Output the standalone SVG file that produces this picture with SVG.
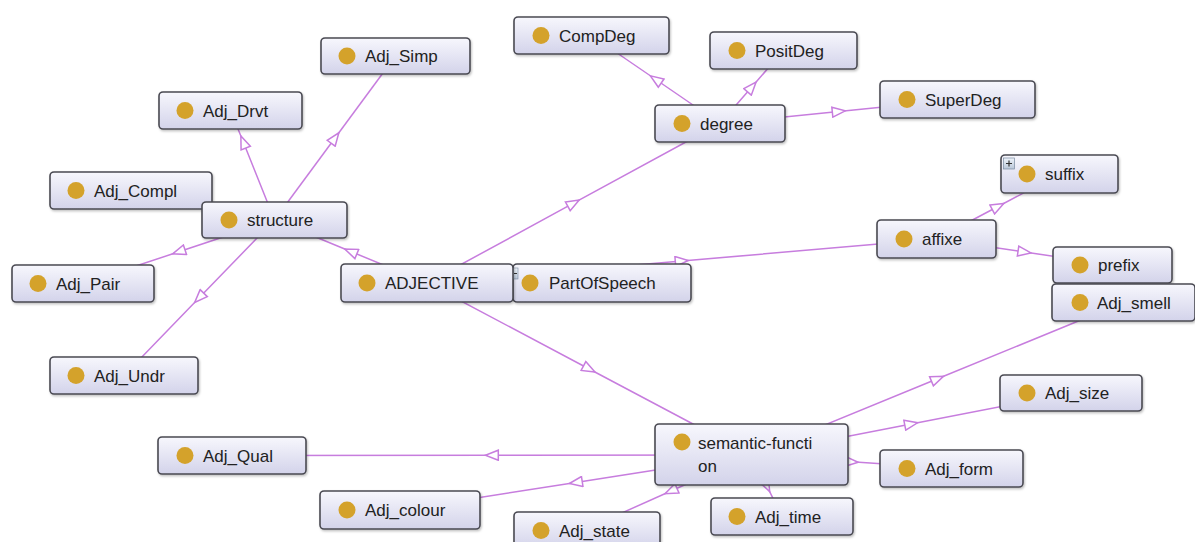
<svg xmlns="http://www.w3.org/2000/svg" width="1195" height="542" viewBox="0 0 1195 542">
<style>
.e{fill:none;stroke:#c77dde;stroke-width:1.5;marker-mid:url(#tri)}
.b{fill:url(#g);stroke:#4a4a52;stroke-width:1.6;filter:url(#sh)}
.d{fill:#d4a22b}
.t{font-family:"Liberation Sans",Arial,sans-serif;font-size:17px;fill:#222}
</style>
<defs>
<linearGradient id="g" x1="0" y1="0" x2="0" y2="1">
<stop offset="0" stop-color="#f7f7fd"/>
<stop offset="1" stop-color="#d3d3ea"/>
</linearGradient>
<linearGradient id="ig" x1="0" y1="0" x2="0" y2="1">
<stop offset="0" stop-color="#eef3fa"/>
<stop offset="1" stop-color="#b9c6d8"/>
</linearGradient>
<filter id="sh" x="-5%" y="-10%" width="112%" height="130%">
<feDropShadow dx="1" dy="1.5" stdDeviation="1" flood-color="#000" flood-opacity="0.25"/>
</filter>
<marker id="tri" markerUnits="userSpaceOnUse" viewBox="-8 -6 16 12" markerWidth="16" markerHeight="12" refX="0" refY="0" orient="auto">
<path d="M-6.5,-5 L6.5,0 L-6.5,5 Z" fill="#fff" stroke="#c77dde" stroke-width="1.5" stroke-linejoin="miter"/>
</marker>
</defs>
<rect width="1195" height="542" fill="#fff"/>
<g id="connectors">
<path class="e" d="M274.5,220 L335,138 L395.5,56"/>
<path class="e" d="M274.5,220 L243.3,142 L230.5,110.5"/>
<path class="e" d="M274.5,220 L178.8,251.8 L83,283.5"/>
<path class="e" d="M274.5,220 L199.2,297.8 L124,375.5"/>
<path class="e" d="M427,283 L350.8,251.5 L274.5,220"/>
<path class="e" d="M427,283 L573.5,203.2 L720,123.5"/>
<path class="e" d="M427,283 L681.8,261 L936.5,239"/>
<path class="e" d="M427,283 L589.2,369 L751.5,455"/>
<path class="e" d="M720,123.5 L655.8,79.5 L591.5,35.5"/>
<path class="e" d="M720,123.5 L751.8,87 L783.5,50.5"/>
<path class="e" d="M720,123.5 L838.8,111.5 L957.5,99.5"/>
<path class="e" d="M936.5,239 L998,206.5 L1059.5,174"/>
<path class="e" d="M936.5,239 L1024.5,252 L1112.5,265"/>
<path class="e" d="M751.5,455 L937.5,378.8 L1123.5,302.5"/>
<path class="e" d="M751.5,455 L911.2,424 L1071,393"/>
<path class="e" d="M751.5,455 L491.8,455.2 L232,455.5"/>
<path class="e" d="M751.5,455 L851.5,461.8 L951.5,468.5"/>
<path class="e" d="M751.5,455 L575.8,482.5 L400,510"/>
<path class="e" d="M751.5,455 L671,491 L590.5,527"/>
<path class="e" d="M751.5,455 L766.8,485.8 L782,516.5"/>
</g>
<g id="n-Adj_Simp"><rect class="b" x="321" y="38" width="149" height="36" rx="4"/><circle class="d" cx="347" cy="56" r="8.5"/><text class="t" x="365" y="62">Adj_Simp</text></g>
<g id="n-Adj_Drvt"><rect class="b" x="159" y="92" width="143" height="37" rx="4"/><circle class="d" cx="185" cy="110.5" r="8.5"/><text class="t" x="203" y="116.5">Adj_Drvt</text></g>
<g id="n-Adj_Compl"><rect class="b" x="50" y="172" width="162" height="37" rx="4"/><circle class="d" cx="76" cy="190.5" r="8.5"/><text class="t" x="94" y="196.5">Adj_Compl</text></g>
<g id="n-structure"><rect class="b" x="202" y="202" width="145" height="36" rx="4"/><circle class="d" cx="229" cy="220" r="8.5"/><text class="t" x="247" y="226">structure</text></g>
<g id="n-Adj_Pair"><rect class="b" x="12" y="265" width="142" height="37" rx="4"/><circle class="d" cx="38" cy="283.5" r="8.5"/><text class="t" x="56" y="289.5">Adj_Pair</text></g>
<g id="n-Adj_Undr"><rect class="b" x="50" y="357" width="148" height="37" rx="4"/><circle class="d" cx="76" cy="375.5" r="8.5"/><text class="t" x="94" y="381.5">Adj_Undr</text></g>
<g id="n-PartOfSpeech"><rect class="b" x="513" y="264" width="178" height="38" rx="4"/><circle class="d" cx="530" cy="283" r="8.5"/><text class="t" x="549" y="289">PartOfSpeech</text>
<rect x="513" y="268" width="5" height="11" fill="url(#ig)" stroke="#7a8aa0" stroke-width="0.6"/><line x1="514" y1="273.5" x2="517" y2="273.5" stroke="#333" stroke-width="1"/></g>
<g id="n-ADJECTIVE"><rect class="b" x="341" y="264" width="172" height="38" rx="4"/><circle class="d" cx="367" cy="283" r="8.5"/><text class="t" x="385" y="289">ADJECTIVE</text></g>
<g id="n-CompDeg"><rect class="b" x="514" y="17" width="155" height="37" rx="4"/><circle class="d" cx="541" cy="35.5" r="8.5"/><text class="t" x="559" y="41.5">CompDeg</text></g>
<g id="n-PositDeg"><rect class="b" x="710" y="32" width="147" height="37" rx="4"/><circle class="d" cx="737" cy="50.5" r="8.5"/><text class="t" x="755" y="56.5">PositDeg</text></g>
<g id="n-degree"><rect class="b" x="655" y="105" width="130" height="37" rx="4"/><circle class="d" cx="682" cy="123.5" r="8.5"/><text class="t" x="700" y="129.5">degree</text></g>
<g id="n-SuperDeg"><rect class="b" x="880" y="81" width="155" height="37" rx="4"/><circle class="d" cx="907" cy="99.5" r="8.5"/><text class="t" x="925" y="105.5">SuperDeg</text></g>
<g id="n-suffix"><rect class="b" x="1001" y="155" width="117" height="38" rx="4"/><circle class="d" cx="1027" cy="174" r="8.5"/><text class="t" x="1045" y="180">suffix</text>
<rect x="1003.5" y="158" width="11" height="11" fill="url(#ig)" stroke="#7a8aa0" stroke-width="0.7"/><path d="M1006,163.5 H1012 M1009,160.5 V166.5" stroke="#333" stroke-width="1.2"/></g>
<g id="n-affixe"><rect class="b" x="877" y="220" width="119" height="38" rx="4"/><circle class="d" cx="904" cy="239" r="8.5"/><text class="t" x="922" y="245">affixe</text></g>
<g id="n-prefix"><rect class="b" x="1053" y="247" width="119" height="36" rx="4"/><circle class="d" cx="1080" cy="265" r="8.5"/><text class="t" x="1098" y="271">prefix</text></g>
<g id="n-Adj_smell"><rect class="b" x="1052" y="284" width="143" height="37" rx="4"/><circle class="d" cx="1080" cy="302.5" r="8.5"/><text class="t" x="1097" y="308.5">Adj_smell</text></g>
<g id="n-Adj_size"><rect class="b" x="1000" y="375" width="142" height="36" rx="4"/><circle class="d" cx="1027" cy="393" r="8.5"/><text class="t" x="1045" y="399">Adj_size</text></g>
<g id="n-semantic-function"><rect class="b" x="655" y="424" width="193" height="61" rx="4"/><circle class="d" cx="682" cy="442" r="8.5"/><text class="t" x="698" y="449">semantic-functi</text><text class="t" x="698" y="472">on</text></g>
<g id="n-Adj_Qual"><rect class="b" x="158" y="437" width="148" height="37" rx="4"/><circle class="d" cx="185" cy="455.5" r="8.5"/><text class="t" x="203" y="461.5">Adj_Qual</text></g>
<g id="n-Adj_form"><rect class="b" x="880" y="450" width="143" height="37" rx="4"/><circle class="d" cx="907" cy="468.5" r="8.5"/><text class="t" x="925" y="474.5">Adj_form</text></g>
<g id="n-Adj_colour"><rect class="b" x="320" y="491" width="160" height="38" rx="4"/><circle class="d" cx="347" cy="510" r="8.5"/><text class="t" x="365" y="516">Adj_colour</text></g>
<g id="n-Adj_time"><rect class="b" x="711" y="498" width="142" height="37" rx="4"/><circle class="d" cx="737" cy="516.5" r="8.5"/><text class="t" x="755" y="522.5">Adj_time</text></g>
<g id="n-Adj_state"><rect class="b" x="514" y="512" width="146" height="37" rx="4"/><circle class="d" cx="541" cy="530.5" r="8.5"/><text class="t" x="559" y="536.5">Adj_state</text></g>
</svg>
